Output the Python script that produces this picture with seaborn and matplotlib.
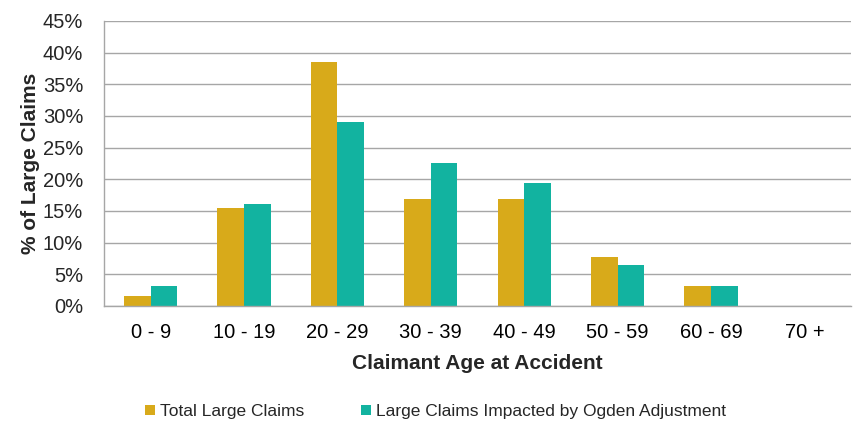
import pandas as pd
import numpy as np
import matplotlib
matplotlib.use('Agg')
import matplotlib.pyplot as plt
import seaborn as sns
from matplotlib.ticker import FixedLocator, PercentFormatter

# Du lieu doc tu bieu do goc (% so vu boi thuong lon)
age_groups = ['0 - 9', '10 - 19', '20 - 29', '30 - 39', '40 - 49', '50 - 59', '60 - 69', '70 +']
total_claims = [1.5, 15.4, 38.5, 16.9, 16.9, 7.7, 3.1, 0.0]
ogden_claims = [3.2, 16.1, 29.0, 22.6, 19.4, 6.5, 3.2, 0.0]
series_names = ['Total Large Claims', 'Large Claims Impacted by Ogden Adjustment']
colors = ['#D8AA1A', '#12B3A0']

df = pd.DataFrame({
    'Age': age_groups * 2,
    'Pct': total_claims + ogden_claims,
    'Series': [series_names[0]] * len(age_groups) + [series_names[1]] * len(age_groups),
})

sns.set_style('white')
plt.rcParams['font.family'] = ['Liberation Sans', 'DejaVu Sans']

fig = plt.figure(figsize=(8.54, 4.21), dpi=100)
ax = fig.add_axes([0.1218, 0.2732, 0.8747, 0.6770])

sns.barplot(data=df, x='Age', y='Pct', hue='Series', order=age_groups,
            hue_order=series_names, palette=colors, width=0.57, gap=0,
            linewidth=0, saturation=1, ax=ax, legend=True)

ax.set_ylim(0, 45)
ax.set_xlim(-0.5, len(age_groups) - 0.5)
ax.set_yticks(np.arange(0, 46, 5))
ax.yaxis.set_major_formatter(PercentFormatter(decimals=0))
ax.yaxis.grid(True, color='#A6A6A6', linewidth=1)
ax.set_axisbelow(True)

# vach chia giua cac nhom tuoi
ax.xaxis.set_minor_locator(FixedLocator(np.arange(-0.5, len(age_groups), 1.0)))
ax.tick_params(axis='x', which='major', length=0, labelsize=14.5, pad=12, colors='black')
ax.tick_params(axis='x', which='minor', length=6, width=1, color='#A6A6A6')
ax.tick_params(axis='y', length=7, width=1, color='#A6A6A6', labelsize=14.5, pad=8)

for side in ['top', 'right']:
    ax.spines[side].set_visible(False)
for side in ['left', 'bottom']:
    ax.spines[side].set_color('#A6A6A6')
    ax.spines[side].set_linewidth(1)

ax.set_xlabel('Claimant Age at Accident', fontsize=15, fontweight='bold', labelpad=9)
ax.set_ylabel('% of Large Claims', fontsize=15, fontweight='bold', labelpad=2)

handles, labels = ax.get_legend_handles_labels()
ax.get_legend().remove()
fig.legend(handles, labels, loc='center', bbox_to_anchor=(0.51, 0.022), ncol=2,
           frameon=False, fontsize=12.5, handlelength=0.55, handleheight=0.55,
           handletextpad=0.3, columnspacing=3.3)

fig.savefig('out.png', dpi=100)
